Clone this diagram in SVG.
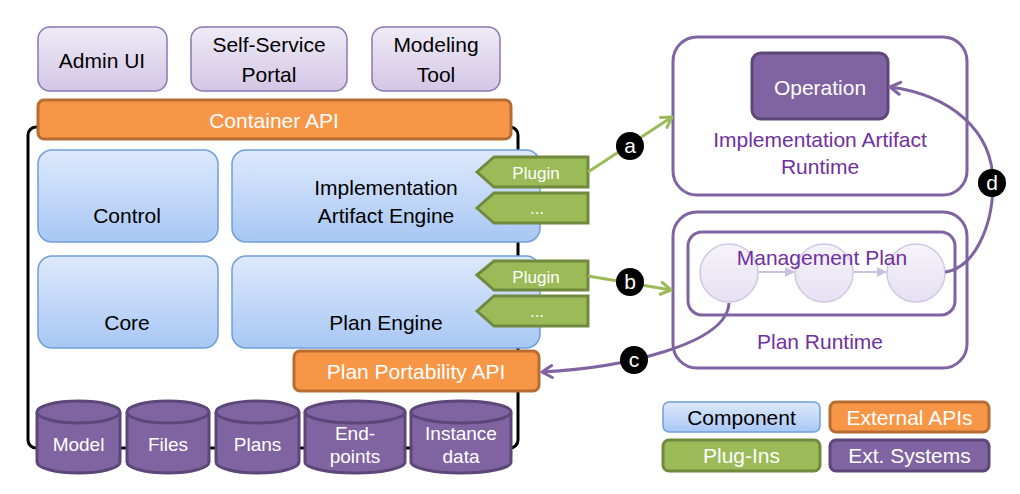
<svg xmlns="http://www.w3.org/2000/svg" width="1020" height="494" viewBox="0 0 1020 494">
<defs>
<linearGradient id="gBlue" x1="0" y1="0" x2="0" y2="1"><stop offset="0" stop-color="#dde9fc"/><stop offset="1" stop-color="#a8c7f4"/></linearGradient>
<linearGradient id="gLav" x1="0" y1="0" x2="0" y2="1"><stop offset="0" stop-color="#efebf6"/><stop offset="1" stop-color="#d3c6e6"/></linearGradient>
<linearGradient id="gCirc" x1="0" y1="0" x2="0" y2="1"><stop offset="0" stop-color="#f6f4fa"/><stop offset="1" stop-color="#e6e0f1"/></linearGradient>
<marker id="ag" viewBox="0 0 14 16" refX="12" refY="8" markerWidth="14" markerHeight="16" markerUnits="userSpaceOnUse" orient="auto"><path d="M2,2 L12,8 L2,14" fill="none" stroke="#9bbb59" stroke-width="3" stroke-linecap="round" stroke-linejoin="round"/></marker>
<marker id="ap" viewBox="0 0 14 16" refX="12" refY="8" markerWidth="14" markerHeight="16" markerUnits="userSpaceOnUse" orient="auto"><path d="M2,2 L12,8 L2,14" fill="none" stroke="#8064a2" stroke-width="3" stroke-linecap="round" stroke-linejoin="round"/></marker>
<marker id="al" viewBox="0 0 10 10" refX="9" refY="5" markerWidth="10" markerHeight="10" markerUnits="userSpaceOnUse" orient="auto"><path d="M0,0 L10,5 L0,10 Z" fill="#cbbfe2"/></marker>
</defs>
<style>
text{font-family:"Liberation Sans",Arial,sans-serif;text-anchor:middle}
.t21{font-size:21px;fill:#000}
.w21{font-size:21px;fill:#fff}
.w20{font-size:19px;fill:#fff}
.w17{font-size:17px;fill:#fff}
.p21{font-size:21px;fill:#7030a0}
.lav{fill:url(#gLav);stroke:#8d76b2;stroke-width:1.5}
.blue{fill:url(#gBlue);stroke:#6f9fd9;stroke-width:1.5}
.org{fill:#f79646;stroke:#b66c32;stroke-width:3}
.grn{fill:#9bbb59;stroke:#71893f;stroke-width:3}
.pur{fill:#8064a2;stroke:#5d4778;stroke-width:3}
.rt{fill:#fff;stroke:#8064a2;stroke-width:3}
.circ{fill:url(#gCirc);stroke:#d0c7e3;stroke-width:1.5}
.lbl{fill:#000}
</style>
<rect width="1020" height="494" fill="#fff"/>

<g id="frame"><rect x="28" y="127" width="490" height="321" rx="8" fill="none" stroke="#000" stroke-width="3"/></g>

<g id="admin-ui"><rect class="lav" x="38" y="27" width="129" height="64" rx="12"/><text class="t21" x="102" y="68">Admin UI</text></g>
<g id="self-service-portal"><rect class="lav" x="191" y="27" width="156" height="64" rx="12"/><text class="t21" x="269" y="52">Self-Service</text><text class="t21" x="269" y="82">Portal</text></g>
<g id="modeling-tool"><rect class="lav" x="372" y="27" width="128" height="64" rx="12"/><text class="t21" x="436" y="52">Modeling</text><text class="t21" x="436" y="82">Tool</text></g>

<g id="container-api"><rect class="org" x="38" y="100" width="473" height="39" rx="6"/><text class="w21" x="274" y="128">Container API</text></g>

<g id="control"><rect class="blue" x="38" y="150" width="180" height="92" rx="14"/><text class="t21" x="127" y="223">Control</text></g>
<g id="ia-engine"><rect class="blue" x="232" y="150" width="308" height="92" rx="14"/><text class="t21" x="386" y="195">Implementation</text><text class="t21" x="386" y="223">Artifact Engine</text></g>
<g id="core"><rect class="blue" x="38" y="256" width="180" height="92" rx="14"/><text class="t21" x="127" y="330">Core</text></g>
<g id="plan-engine"><rect class="blue" x="232" y="256" width="308" height="92" rx="14"/><text class="t21" x="386" y="330">Plan Engine</text></g>

<g id="plugin-ia"><path class="grn" d="M477,172 L494,157 L588,157 L588,187 L494,187 Z"/><text class="w17" x="536" y="179">Plugin</text></g>
<g id="plugin-ia-more"><path class="grn" d="M477,208 L494,193 L588,193 L588,223 L494,223 Z"/><text class="w17" x="537" y="214">...</text></g>
<g id="plugin-plan"><path class="grn" d="M477,275 L494,261 L588,261 L588,290 L494,290 Z"/><text class="w17" x="536" y="283">Plugin</text></g>
<g id="plugin-plan-more"><path class="grn" d="M477,311 L494,296 L588,296 L588,326 L494,326 Z"/><text class="w17" x="537" y="317">...</text></g>

<g id="plan-portability-api"><rect class="org" x="294" y="351" width="245" height="40" rx="6"/><text class="w21" x="416" y="379">Plan Portability API</text></g>

<g id="db-model"><path class="pur" d="M37,412 L37,462 A41.5,11 0 0 0 120,462 L120,412"/><ellipse class="pur" cx="78.5" cy="412" rx="41.5" ry="11"/><text class="w20" x="78.5" y="451">Model</text></g>
<g id="db-files"><path class="pur" d="M127,412 L127,462 A41,11 0 0 0 209,462 L209,412"/><ellipse class="pur" cx="168" cy="412" rx="41" ry="11"/><text class="w20" x="168" y="451">Files</text></g>
<g id="db-plans"><path class="pur" d="M216,412 L216,462 A41.5,11 0 0 0 299,462 L299,412"/><ellipse class="pur" cx="257.5" cy="412" rx="41.5" ry="11"/><text class="w20" x="257.5" y="451">Plans</text></g>
<g id="db-endpoints"><path class="pur" d="M305,412 L305,462 A50,11 0 0 0 405,462 L405,412"/><ellipse class="pur" cx="355" cy="412" rx="50" ry="11"/><text class="w20" x="355" y="440">End-</text><text class="w20" x="355" y="463">points</text></g>
<g id="db-instance"><path class="pur" d="M411,412 L411,462 A50,11 0 0 0 511,462 L511,412"/><ellipse class="pur" cx="461" cy="412" rx="50" ry="11"/><text class="w20" x="461" y="440">Instance</text><text class="w20" x="461" y="463">data</text></g>

<g id="ia-runtime"><rect class="rt" x="673" y="37" width="294" height="158" rx="24"/><text class="p21" x="820" y="147">Implementation Artifact</text><text class="p21" x="820" y="174">Runtime</text></g>
<g id="operation"><rect class="pur" x="752" y="53" width="136" height="66" rx="9"/><text class="w21" x="820" y="95">Operation</text></g>

<g id="plan-runtime"><rect class="rt" x="673" y="212" width="294" height="156" rx="24"/><text class="p21" x="820" y="349">Plan Runtime</text></g>
<g id="management-plan"><rect class="rt" x="688" y="232" width="267" height="83" rx="14"/>
<circle class="circ" cx="729" cy="273" r="29"/><circle class="circ" cx="824" cy="273" r="29"/><circle class="circ" cx="916" cy="273" r="29"/>
<line x1="759" y1="272" x2="794" y2="272" stroke="#cbbfe2" stroke-width="2" marker-end="url(#al)"/>
<line x1="854" y1="272" x2="886" y2="272" stroke="#cbbfe2" stroke-width="2" marker-end="url(#al)"/>
<text class="p21" x="822" y="265">Management Plan</text></g>

<g id="connectors" fill="none" stroke-width="3">
<line x1="588" y1="172" x2="672" y2="117" stroke="#9bbb59" marker-end="url(#ag)"/>
<line x1="588" y1="276" x2="671" y2="290" stroke="#9bbb59" marker-end="url(#ag)"/>
<path d="M729,303 C727,345 620,368 542,372" stroke="#8064a2" marker-end="url(#ap)"/>
<path d="M945,272 C975,268 993,225 993,183 C993,130 950,95 890,87" stroke="#8064a2" marker-end="url(#ap)"/>
<circle class="lbl" cx="630" cy="146" r="14" stroke="none"/><text class="w21" x="630" y="153" stroke="none">a</text>
<circle class="lbl" cx="630" cy="282" r="14" stroke="none"/><text class="w21" x="630" y="289" stroke="none">b</text>
<circle class="lbl" cx="634" cy="360" r="14" stroke="none"/><text class="w21" x="634" y="367" stroke="none">c</text>
<circle class="lbl" cx="992" cy="183" r="14" stroke="none"/><text class="w21" x="992" y="190" stroke="none">d</text>
</g>

<g id="legend-component"><rect class="blue" x="663" y="402" width="157" height="30" rx="6"/><text class="t21" x="741.5" y="425">Component</text></g>
<g id="legend-external-apis"><rect class="org" x="830" y="402" width="159" height="30" rx="6"/><text class="w21" x="909.5" y="425">External APIs</text></g>
<g id="legend-plugins"><rect class="grn" x="663" y="440" width="157" height="31" rx="6"/><text class="w21" x="741.5" y="463">Plug-Ins</text></g>
<g id="legend-ext-systems"><rect class="pur" x="830" y="440" width="159" height="31" rx="6"/><text class="w21" x="909.5" y="463">Ext. Systems</text></g>
</svg>
